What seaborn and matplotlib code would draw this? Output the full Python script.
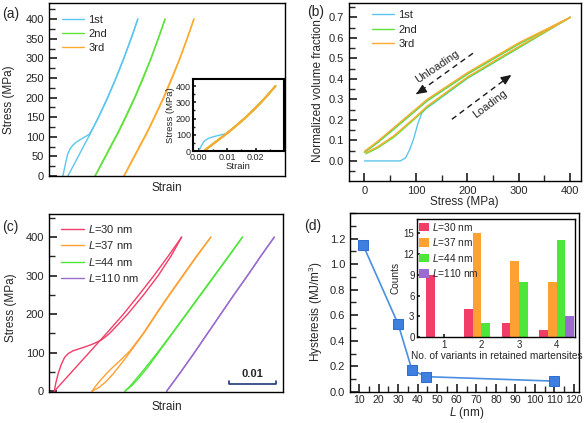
import matplotlib
matplotlib.use("Agg")
import matplotlib.pyplot as plt
from matplotlib.ticker import AutoMinorLocator, MultipleLocator
import seaborn as sns
import pandas as pd

sns.set_theme(style="ticks")
plt.rcParams["font.family"] = ["Liberation Sans", "DejaVu Sans"]
plt.rcParams.update({
    "mathtext.fontset": "custom",
    "mathtext.rm": "Liberation Sans",
    "mathtext.it": "Liberation Sans:italic",
    "xtick.direction": "in", "ytick.direction": "in",
    "xtick.labelsize": 8, "ytick.labelsize": 8,
    "axes.labelsize": 8.5, "axes.linewidth": 1.0,
    "axes.edgecolor": "black",
})

# ---- (a) stress-strain cycles (strain, stress in MPa)
a1_load_strain = [0, 0.0009, 0.0017, 0.0025, 0.0035, 0.0048, 0.0063, 0.0080, 0.0095,
                  0.0108, 0.0129, 0.0162, 0.0192, 0.0220, 0.0246, 0.0270]
a1_load_stress = [0, 30, 55, 68, 78, 86, 93, 100, 106, 122, 150, 200, 250, 300, 350, 400]
a1_unload_strain = [0.0270, 0.0245, 0.0219, 0.0191, 0.0161, 0.0128, 0.0099, 0.0080, 0.0060, 0.0039, 0.0018]
a1_unload_stress = [400, 350, 300, 250, 200, 150, 108, 83, 56, 28, 0]
acyc_load_strain = [0.0018, 0.0040, 0.0061, 0.0081, 0.0100, 0.0129, 0.0162, 0.0192, 0.0220, 0.0246, 0.0270]
acyc_load_stress = [0, 28, 56, 83, 108, 150, 200, 250, 300, 350, 400]
acyc_unload_strain = [0.0270, 0.0245, 0.0219, 0.0190, 0.0160, 0.0127, 0.0098, 0.0079, 0.0059, 0.0038, 0.0018]
acyc_unload_stress = [400, 350, 300, 250, 200, 150, 108, 83, 56, 28, 0]
cycle_names = ["1st", "2nd", "3rd"]
cycle_colors = ["#5cc6ee", "#5fe23a", "#ffa92e"]
cycle_shift = [0, 0.0098, 0.0202]

# ---- (b) normalized volume fraction vs stress
b1_load_stress = [0, 70, 80, 88, 96, 104, 112, 120, 135, 200, 300, 400]
b1_load_frac = [0, 0, 0.015, 0.055, 0.11, 0.183, 0.235, 0.255, 0.282, 0.402, 0.552, 0.70]
b_load_stress = [3, 25, 57, 100, 122, 200, 300, 400]
b2_load_frac = [0.035, 0.062, 0.115, 0.21, 0.262, 0.404, 0.552, 0.70]
b3_load_frac = [0.040, 0.068, 0.122, 0.216, 0.267, 0.409, 0.558, 0.70]
b_unload_stress = [400, 300, 200, 122, 57, 25, 0]
b2_unload_frac = [0.70, 0.570, 0.423, 0.293, 0.155, 0.088, 0.042]
b3_unload_frac = [0.70, 0.576, 0.430, 0.300, 0.162, 0.094, 0.047]

# ---- (c) stress-strain for different L
c30_load_strain = [0, 0.0003, 0.0008, 0.0015, 0.0022, 0.0030, 0.0040, 0.0055, 0.0070, 0.0085,
                   0.0100, 0.0116, 0.0137, 0.0156, 0.0190, 0.0221, 0.0248, 0.0271]
c30_load_stress = [0, 20, 45, 70, 88, 98, 105, 111, 117, 124, 133, 148, 175, 200, 250, 300, 350, 400]
c30_unload_strain = [0.0271, 0.0242, 0.0212, 0.0180, 0.0147, 0.0111, 0.0074, 0.0037, 0]
c30_unload_stress = [400, 350, 300, 250, 200, 150, 100, 50, 0]
c37_load_strain = [0, 0.0015, 0.0030, 0.0045, 0.0060, 0.0074, 0.0083, 0.0110, 0.0137, 0.0165, 0.0194, 0.0223, 0.0253]
c37_load_stress = [0, 10, 25, 45, 68, 90, 105, 150, 200, 250, 300, 350, 400]
c37_unload_strain = [0.0253, 0.0222, 0.0193, 0.0164, 0.0136, 0.0109, 0.0081, 0.0060, 0.0038, 0.0019, 0.0007, 0]
c37_unload_stress = [400, 350, 300, 250, 200, 150, 105, 80, 55, 30, 12, 0]
c44_load_strain = [0, 0.0015, 0.0030, 0.0047, 0.0071, 0.0101, 0.0131, 0.0161, 0.0191, 0.0221, 0.0250]
c44_load_stress = [0, 15, 35, 60, 100, 150, 200, 250, 300, 350, 400]
c44_unload_strain = [0.0250, 0.0220, 0.0190, 0.0160, 0.0130, 0.0100, 0.0069, 0.0043, 0.0026, 0.0012, 0]
c44_unload_stress = [400, 350, 300, 250, 200, 150, 100, 60, 35, 15, 0]
c110_strain = [0, 0.0030, 0.0059, 0.0087, 0.0115, 0.0143, 0.0172, 0.0200, 0.0229]
c110_stress = [0, 50, 100, 150, 200, 250, 300, 350, 400]
size_names = ["$L$=30 nm", "$L$=37 nm", "$L$=44 nm", "$L$=110 nm"]
size_colors = ["#f23d68", "#ffa032", "#4fe63a", "#9a6cd0"]
size_shift = [0.00113, 0.00915, 0.01617, 0.02504]

# ---- (d) hysteresis vs L, and variant counts
L_nm = [12, 30, 37, 44, 110]
hysteresis = [1.15, 0.53, 0.175, 0.12, 0.085]
variants = [1, 2, 3, 4]
counts_30 = [9, 4, 2, 1]
counts_37 = [0, 15, 11, 8]
counts_44 = [0, 2, 8, 14]
counts_110 = [0, 0, 0, 3]

fig = plt.figure(figsize=(5.88, 4.23), dpi=100)


def curve(ax, xs, ys, color, shift=0.0, label=None, lw=1.0):
    sns.lineplot(x=[v + shift for v in xs], y=ys, sort=False, estimator=None,
                 color=color, lw=lw, ax=ax, label=label)


def inward(ax):
    ax.tick_params(which="both", direction="in")


# ===== (a)
ax_a = fig.add_axes([0.0833, 0.5839, 0.4014, 0.4090])
for i in [0, 1, 2]:
    if i == 0:
        curve(ax_a, a1_load_strain, a1_load_stress, cycle_colors[0], cycle_shift[0], cycle_names[0])
        curve(ax_a, a1_unload_strain, a1_unload_stress, cycle_colors[0], cycle_shift[0])
    else:
        curve(ax_a, acyc_load_strain, acyc_load_stress, cycle_colors[i], cycle_shift[i], cycle_names[i])
        curve(ax_a, acyc_unload_strain, acyc_unload_stress, cycle_colors[i], cycle_shift[i])
ax_a.set_xlim(-0.005, 0.080)
ax_a.set_ylim(0, 441)
ax_a.set_xticks([])
ax_a.yaxis.set_major_locator(MultipleLocator(50))
ax_a.yaxis.set_minor_locator(AutoMinorLocator(2))
inward(ax_a)
ax_a.set_xlabel("Strain")
ax_a.set_ylabel("Stress (MPa)")
ax_a.xaxis.set_label_coords(0.5, -0.035)
ax_a.yaxis.set_label_coords(-0.145, 0.44)
ax_a.legend(loc="upper left", bbox_to_anchor=(0.036, 0.955), frameon=False, fontsize=8,
            handlelength=2.0, labelspacing=0.35, borderaxespad=0, handletextpad=0.4)

ax_ai = fig.add_axes([0.3282, 0.6430, 0.1548, 0.1702])
for i in [0, 1, 2]:
    if i == 0:
        curve(ax_ai, a1_load_strain, a1_load_stress, cycle_colors[0])
        curve(ax_ai, a1_unload_strain, a1_unload_stress, cycle_colors[0])
    else:
        curve(ax_ai, acyc_load_strain, acyc_load_stress, cycle_colors[i], lw=1.3)
        curve(ax_ai, acyc_unload_strain, acyc_unload_stress, cycle_colors[i], lw=1.3)
ax_ai.set_xlim(-0.002, 0.030)
ax_ai.set_ylim(0, 443)
ax_ai.set_xticks([0.0, 0.01, 0.02])
ax_ai.set_xticklabels(["0.00", "0.01", "0.02"])
ax_ai.yaxis.set_major_locator(MultipleLocator(100))
ax_ai.yaxis.set_minor_locator(AutoMinorLocator(2))
ax_ai.xaxis.set_minor_locator(AutoMinorLocator(2))
inward(ax_ai)
ax_ai.tick_params(labelsize=6.5, pad=1.5, length=2.5)
ax_ai.tick_params(which="minor", length=1.5)
ax_ai.set_xlabel("Strain", fontsize=6.8, labelpad=0)
ax_ai.set_ylabel("Stress (MPa)", fontsize=6.8, labelpad=1)
for s in ax_ai.spines.values():
    s.set_linewidth(1.5)

# ===== (b)
ax_b = fig.add_axes([0.5935, 0.5721, 0.3946, 0.4208])
curve(ax_b, b1_load_stress, b1_load_frac, cycle_colors[0], label=cycle_names[0])
curve(ax_b, b_unload_stress, b2_unload_frac, cycle_colors[0])
curve(ax_b, b_load_stress, b2_load_frac, cycle_colors[1], label=cycle_names[1])
curve(ax_b, b_unload_stress, b2_unload_frac, cycle_colors[1])
curve(ax_b, b_load_stress, b3_load_frac, cycle_colors[2], label=cycle_names[2])
curve(ax_b, b_unload_stress, b3_unload_frac, cycle_colors[2])
ax_b.set_xlim(-30, 421)
ax_b.set_ylim(-0.098, 0.77)
ax_b.xaxis.set_major_locator(MultipleLocator(100))
ax_b.xaxis.set_minor_locator(AutoMinorLocator(2))
ax_b.yaxis.set_major_locator(MultipleLocator(0.1))
ax_b.yaxis.set_minor_locator(AutoMinorLocator(2))
inward(ax_b)
ax_b.set_xlabel("Stress (MPa)")
ax_b.set_ylabel("Normalized volume fraction")
ax_b.xaxis.set_label_coords(0.496, -0.084)
ax_b.yaxis.set_label_coords(-0.108, 0.506)
ax_b.legend(loc="upper left", bbox_to_anchor=(0.078, 0.985), frameon=False, fontsize=8,
            handlelength=2.0, labelspacing=0.4, borderaxespad=0, handletextpad=0.4)
# dashed loading / unloading arrows
ax_b.plot([211, 101], [0.525, 0.327], ls=(0, (4, 3)), color="k", lw=1.0)
ax_b.annotate("", xy=(96, 0.318), xytext=(110, 0.341),
              arrowprops=dict(arrowstyle="-|>,head_length=0.5,head_width=0.22", color="k", lw=1.0))
ax_b.plot([170, 283], [0.203, 0.415], ls=(0, (4, 3)), color="k", lw=1.0)
ax_b.annotate("", xy=(290, 0.427), xytext=(277, 0.404),
              arrowprops=dict(arrowstyle="-|>,head_length=0.5,head_width=0.22", color="k", lw=1.0))
ax_b.text(142, 0.458, "Unloading", rotation=34, ha="center", va="center", fontsize=8,
          rotation_mode="anchor")
ax_b.text(244, 0.276, "Loading", rotation=37, ha="center", va="center", fontsize=8,
          rotation_mode="anchor")

# ===== (c)
ax_c = fig.add_axes([0.0833, 0.0733, 0.3980, 0.4208])
c_load = [(c30_load_strain, c30_load_stress), (c37_load_strain, c37_load_stress),
          (c44_load_strain, c44_load_stress), (c110_strain, c110_stress)]
c_unload = [(c30_unload_strain, c30_unload_stress), (c37_unload_strain, c37_unload_stress),
            (c44_unload_strain, c44_unload_stress), (c110_strain, c110_stress)]
for i in range(4):
    curve(ax_c, c_load[i][0], c_load[i][1], size_colors[i], size_shift[i], size_names[i])
    curve(ax_c, c_unload[i][0], c_unload[i][1], size_colors[i], size_shift[i])
ax_c.set_xlim(0, 0.0498)
ax_c.set_ylim(-2, 460)
ax_c.set_xticks([])
ax_c.yaxis.set_major_locator(MultipleLocator(100))
ax_c.yaxis.set_minor_locator(AutoMinorLocator(2))
inward(ax_c)
ax_c.set_xlabel("Strain")
ax_c.set_ylabel("Stress (MPa)")
ax_c.xaxis.set_label_coords(0.503, -0.05)
ax_c.yaxis.set_label_coords(-0.137, 0.474)
ax_c.legend(loc="upper left", bbox_to_anchor=(0.034, 0.975), frameon=False, fontsize=8,
            handlelength=2.0, labelspacing=0.4, borderaxespad=0, handletextpad=0.4)
# 0.01 strain scale bar
ax_c.plot([0.0383, 0.0383, 0.0483, 0.0483], [26, 19, 19, 26], color="#1f3a7a", lw=1.2)
ax_c.text(0.0433, 45, "0.01", ha="center", va="center", fontsize=8, fontweight="bold")

# ===== (d)
ax_d = fig.add_axes([0.5952, 0.0733, 0.3895, 0.4232])
sns.lineplot(x=L_nm, y=hysteresis, marker="s", markersize=7, color="#4a8fe0",
             markerfacecolor="#3f7fe0", markeredgecolor="#2f6fd0", lw=1.2, ax=ax_d)
ax_d.set_xlim(5.3, 122.6)
ax_d.set_ylim(0, 1.4)
ax_d.xaxis.set_major_locator(MultipleLocator(10))
ax_d.xaxis.set_minor_locator(AutoMinorLocator(2))
ax_d.set_yticks([0, 0.2, 0.4, 0.6, 0.8, 1.0, 1.2])
ax_d.yaxis.set_minor_locator(AutoMinorLocator(2))
inward(ax_d)
ax_d.tick_params(axis="x", labelsize=7.6, pad=2.5)
ax_d.set_xlabel("$L$ (nm)")
ax_d.set_ylabel("Hysteresis (MJ/m$^3$)")
ax_d.xaxis.set_label_coords(0.51, -0.075)
ax_d.yaxis.set_label_coords(-0.109, 0.45)

ax_di = fig.add_axes([0.7097, 0.2033, 0.2690, 0.2790])
bars = pd.DataFrame({
    "variants": variants * 4,
    "counts": counts_30 + counts_37 + counts_44 + counts_110,
    "size": [n for n in size_names for _ in variants],
})
sns.barplot(data=bars, x="variants", y="counts", hue="size", palette=size_colors,
            width=0.92, saturation=1, ax=ax_di, edgecolor="none")
ax_di.set_xlim(-0.7, 3.5)
ax_di.set_ylim(0, 17.1)
ax_di.yaxis.set_major_locator(MultipleLocator(3))
inward(ax_di)
ax_di.tick_params(labelsize=7, pad=2, length=2.5)
ax_di.set_xlabel("No. of variants in retained martensites", fontsize=7.3, labelpad=1)
ax_di.set_ylabel("Counts", fontsize=7.3, labelpad=2)
ax_di.legend(loc="upper left", bbox_to_anchor=(0, 1), frameon=False, fontsize=7.3,
             handlelength=1.0, handleheight=0.9, labelspacing=0.35, borderaxespad=0,
             borderpad=0.15, handletextpad=0.3)

fig.text(0.003, 1 - 14 / 423, "(a)", fontsize=10, va="center")
fig.text(307 / 588, 1 - 12 / 423, "(b)", fontsize=10, va="center")
fig.text(0.003, 1 - 227 / 423, "(c)", fontsize=10, va="center")
fig.text(304 / 588, 1 - 226 / 423, "(d)", fontsize=10, va="center")

fig.savefig("out.png", dpi=100)
